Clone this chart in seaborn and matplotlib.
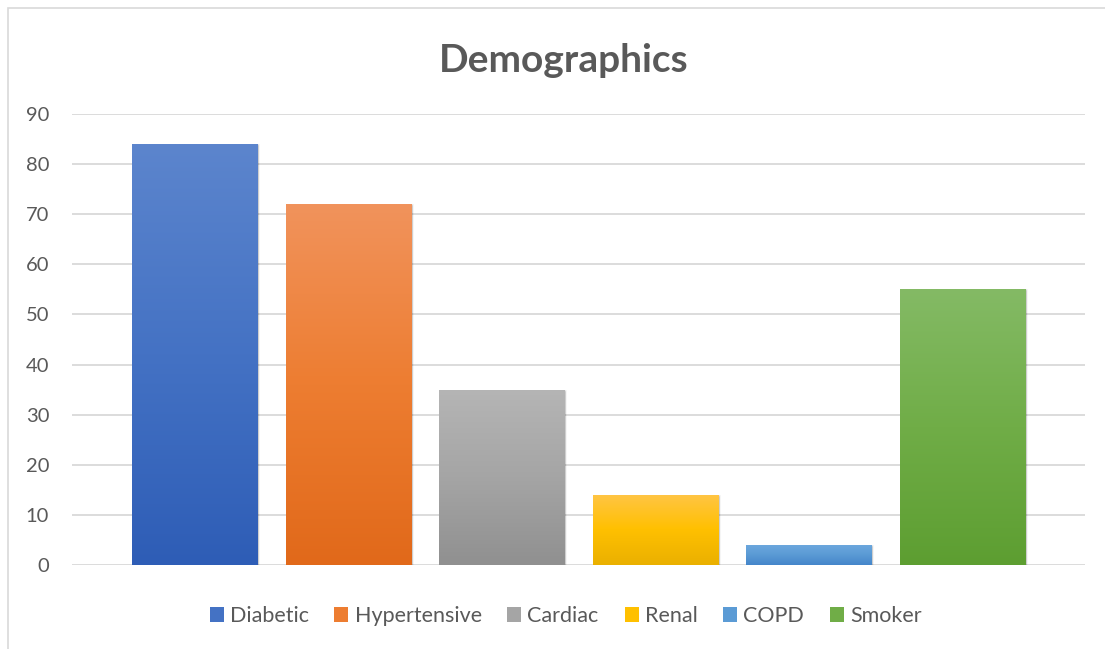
import numpy as np
import pandas as pd
import matplotlib
matplotlib.use("Agg")
import matplotlib.pyplot as plt
import seaborn as sns
from matplotlib.colors import LinearSegmentedColormap
from matplotlib.patches import Patch, Rectangle
import matplotlib.transforms as mtransforms

# data
categories = ["Diabetic", "Hypertensive", "Cardiac", "Renal", "COPD", "Smoker"]
values = [84, 72, 35, 14, 4, 55]
yticks = [0, 10, 20, 30, 40, 50, 60, 70, 80, 90]

# gradient colours (top, middle, bottom) for each bar
grad_top = ["#5C85CD", "#F1935C", "#B5B5B5", "#FFC545", "#6DA8DE", "#84BA65"]
grad_mid = ["#4472C4", "#ED7D31", "#A5A5A5", "#FFC000", "#5B9BD5", "#70AD47"]
grad_bot = ["#2E5DB6", "#E1691A", "#909090", "#EAB000", "#4486CA", "#5D9E31"]

df = pd.DataFrame({"cat": categories, "val": values})

sns.set_theme(style="white")
plt.rcParams['font.family'] = ['Lato', 'DejaVu Sans']

fig = plt.figure(figsize=(11.05, 6.49), dpi=100)
ax = fig.add_axes([0.0652, 0.1294, 0.9167, 0.6949])

sns.barplot(data=df, x="cat", y="val", hue="cat", palette=grad_mid,
            width=0.815, legend=False, ax=ax, zorder=3)

# gradient fills + soft shadow
for i, patch in enumerate(ax.patches):
    x0 = patch.get_x()
    w = patch.get_width()
    h = patch.get_height()
    cmap = LinearSegmentedColormap.from_list(f"g{i}", [grad_bot[i], grad_mid[i], grad_top[i]])
    grad = np.linspace(0, 1, 256).reshape(-1, 1)
    im = ax.imshow(grad, cmap=cmap, extent=[x0, x0 + w, 0, h], origin="lower",
                   aspect="auto", zorder=3)
    im.set_clip_path(patch)
    patch.set_facecolor("none")
    patch.set_edgecolor("none")
    for d, a in [(3, 0.04), (2, 0.05), (1, 0.06)]:
        off = mtransforms.offset_copy(ax.transData, fig=fig, x=1, y=-1, units="dots")
        sh = Rectangle((x0, 0), w, h, transform=off, facecolor="#000000", alpha=a,
                       edgecolor="#000000", linewidth=d * 0.7, zorder=2)
        ax.add_patch(sh)

ax.set_xlim(-0.80, 5.80)
ax.set_ylim(0, 90)
ax.set_yticks(yticks)
ax.set_xticks([])
ax.set_xlabel("")
ax.set_ylabel("")
ax.tick_params(axis="y", labelsize=14.5, labelcolor="#595959", length=0, pad=16.5)
ax.yaxis.grid(True, color="#D9D9D9", linewidth=1.3, zorder=0)
ax.set_axisbelow(True)
for s in ax.spines.values():
    s.set_visible(False)

fig.text(0.510, 0.889, "Demographics", ha="center", va="baseline",
         fontsize=28, fontweight="bold", color="#595959")

handles = [Patch(facecolor=c, edgecolor="none") for c in grad_mid]
fig.legend(handles, categories, loc="center", bbox_to_anchor=(0.5118, 0.0508), ncol=6,
           frameon=False, fontsize=15.5, labelcolor="#595959", handlelength=0.65,
           handleheight=0.65, handletextpad=0.28, columnspacing=1.2)

# chart area border
fig.add_artist(Rectangle((0.0075, -0.01), 1.2, 0.998, transform=fig.transFigure,
                         facecolor="none", edgecolor="#D9D9D9", linewidth=1.2))

fig.savefig("out.png", dpi=100)
